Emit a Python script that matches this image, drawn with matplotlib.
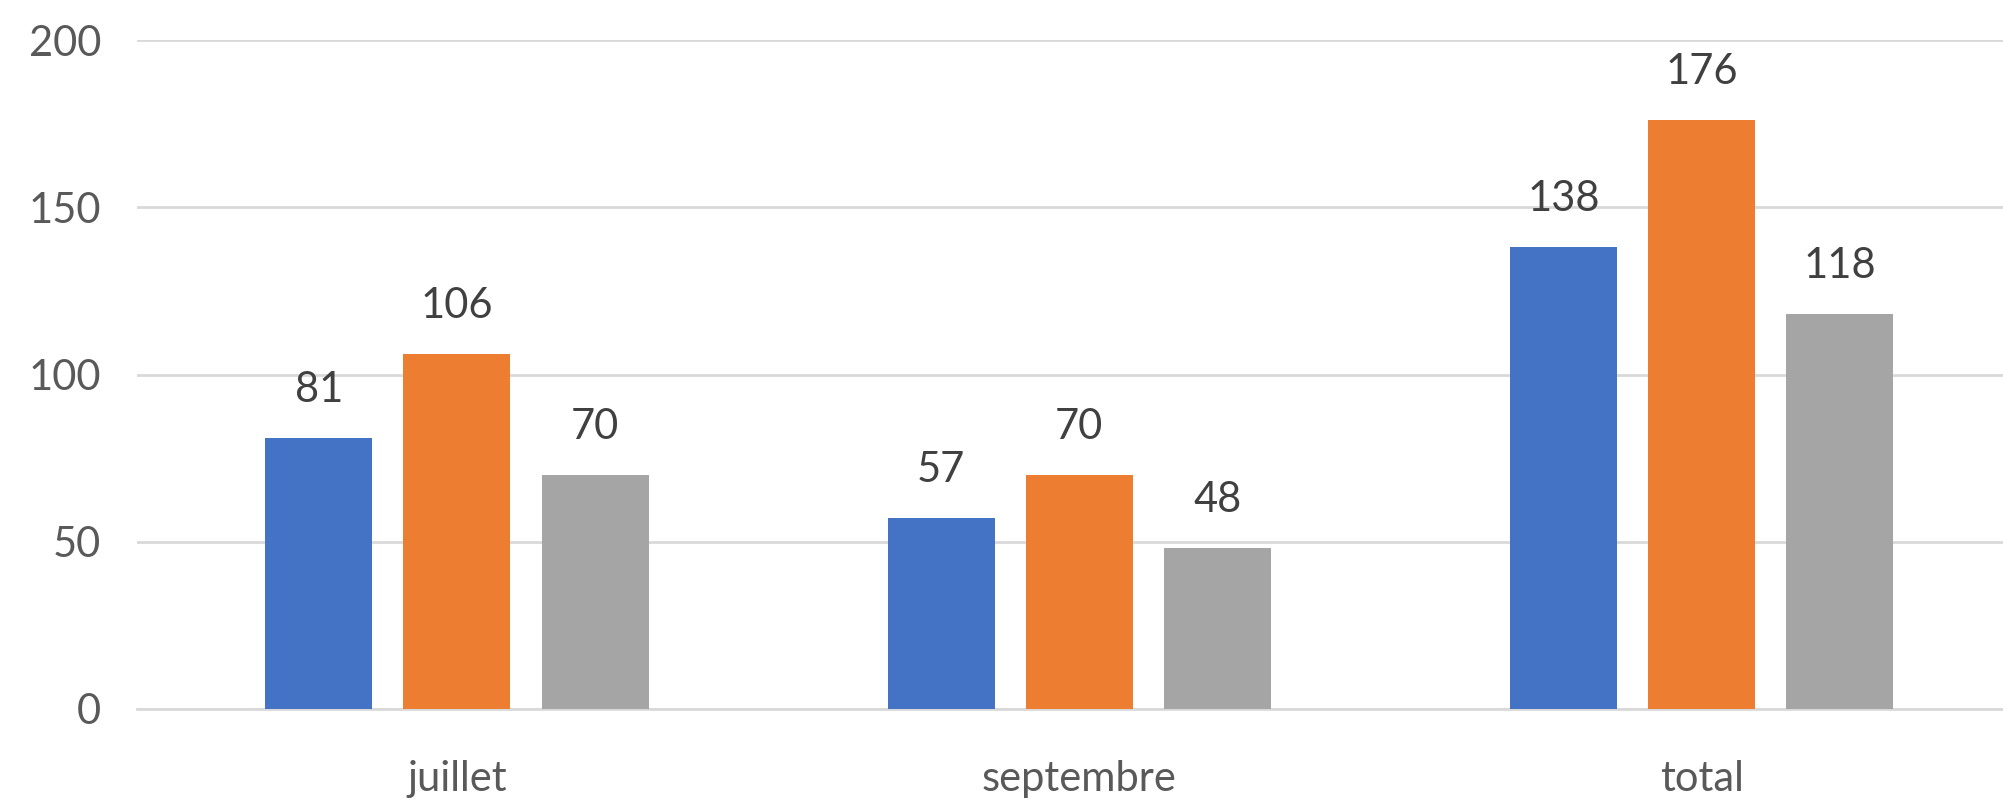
import numpy as np
import matplotlib.pyplot as plt

plt.rcParams['font.family'] = ['Lato', 'DejaVu Sans']

categories = ["juillet", "septembre", "total"]
serie_1 = [81, 57, 138]
serie_2 = [106, 70, 176]
serie_3 = [70, 48, 118]
y_ticks = [0, 50, 100, 150, 200]

colors = ["#4472C4", "#ED7D31", "#A5A5A5"]

fig = plt.figure(figsize=(20.03, 8), dpi=100)
ax = fig.add_axes([137 / 2003, 1 - 709 / 800, (2003 - 137) / 2003, (709 - 40) / 800])

x = np.arange(len(categories))
width = 0.172
step = 0.222
for i, (vals, col) in enumerate(zip([serie_1, serie_2, serie_3], colors)):
    bars = ax.bar(x + (i - 1) * step, vals, width, color=col, zorder=3)
    ax.bar_label(bars, labels=[str(v) for v in vals], padding=21,
                 fontsize=30, color="#404040")

ax.set_xlim(-0.514, 2.484)
ax.set_ylim(0, 200)
ax.set_yticks(y_ticks)
ax.set_xticks(x)
ax.set_xticklabels(categories)
ax.yaxis.grid(True, color="#D9D9D9", linewidth=2, zorder=0)
ax.tick_params(axis="y", length=0, pad=26, labelsize=30, labelcolor="#595959")
ax.tick_params(axis="x", length=0, pad=37, labelsize=30, labelcolor="#595959")
for side in ["top", "right", "left"]:
    ax.spines[side].set_visible(False)
ax.spines["bottom"].set_color("#D9D9D9")
ax.spines["bottom"].set_linewidth(2)

fig.savefig("out.png", dpi=100)
